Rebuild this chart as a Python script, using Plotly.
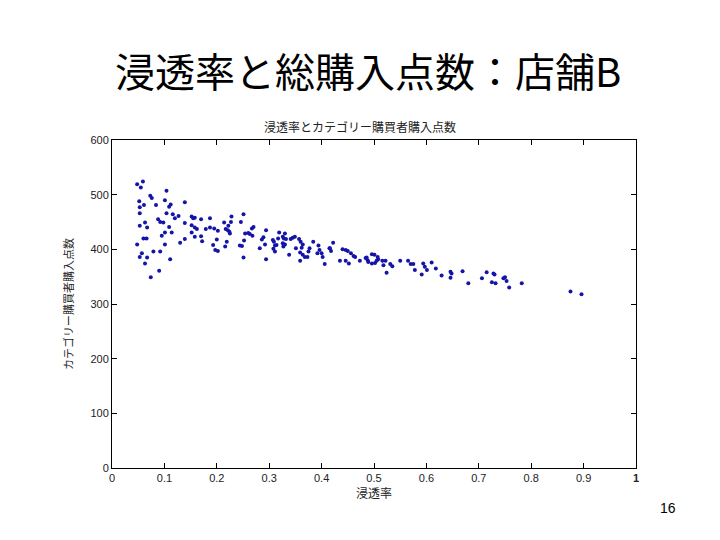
import plotly.graph_objects as go

# 店舗B: 浸透率 vs カテゴリー購買者購入点数
penetration = [
    0.048, 0.059, 0.055, 0.104, 0.073, 0.076, 0.101, 0.052, 0.061, 0.053,
    0.084, 0.112, 0.109, 0.139, 0.053, 0.104, 0.116, 0.127, 0.120, 0.152,
    0.155, 0.158, 0.088, 0.092, 0.098, 0.063, 0.053, 0.067, 0.109, 0.139,
    0.152, 0.158, 0.162, 0.101, 0.095, 0.114, 0.152, 0.158, 0.060, 0.066,
    0.139, 0.130, 0.048, 0.101, 0.079, 0.092, 0.057, 0.053, 0.067, 0.111,
    0.063, 0.090, 0.074,
    0.170, 0.187, 0.179, 0.187, 0.195, 0.202, 0.170, 0.172, 0.200, 0.193,
    0.197, 0.202, 0.214, 0.222, 0.221, 0.224, 0.225, 0.217, 0.228, 0.227,
    0.219, 0.216, 0.246, 0.251, 0.254, 0.260, 0.263, 0.268, 0.267, 0.270,
    0.252, 0.244, 0.248, 0.251, 0.282, 0.286, 0.289,
    0.294, 0.292, 0.307, 0.309, 0.311, 0.314, 0.308, 0.311, 0.319, 0.317,
    0.326, 0.328, 0.332, 0.326, 0.330, 0.327, 0.330, 0.341, 0.345, 0.349,
    0.338, 0.294, 0.351, 0.357, 0.360, 0.364, 0.362, 0.359, 0.364, 0.368,
    0.373, 0.359, 0.377, 0.375, 0.384, 0.394, 0.396, 0.400, 0.402, 0.392,
    0.406, 0.415,
    0.422, 0.416, 0.418, 0.440, 0.446, 0.450, 0.456, 0.461, 0.464, 0.435,
    0.446, 0.452, 0.473, 0.484, 0.488, 0.486, 0.496, 0.501, 0.507, 0.508,
    0.489, 0.496, 0.502, 0.505, 0.516, 0.522, 0.518, 0.524, 0.531, 0.535,
    0.550, 0.565, 0.570, 0.575, 0.578, 0.594, 0.597, 0.601, 0.610, 0.618,
    0.591, 0.629, 0.646, 0.648, 0.646,
    0.669, 0.680, 0.706, 0.715, 0.728, 0.730, 0.725, 0.732, 0.747, 0.750,
    0.753, 0.758, 0.782, 0.875, 0.896,
]
purchases = [
    519, 524, 513, 507, 498, 494, 490, 488, 481, 477,
    481, 482, 478, 486, 466, 466, 464, 461, 457, 460,
    457, 458, 455, 450, 449, 449, 443, 440, 441, 448,
    444, 440, 437, 431, 425, 431, 431, 423, 420, 420,
    419, 412, 409, 409, 396, 396, 393, 386, 385, 382,
    374, 361, 349,
    455, 457, 437, 440, 438, 434, 424, 415, 418, 408,
    399, 397, 449, 443, 435, 432, 429, 437, 460, 450,
    414, 405, 450, 464, 429, 430, 428, 425, 438, 441,
    416, 407, 406, 385, 402, 418, 422,
    435, 409, 417, 414, 407, 408, 401, 396, 431, 420,
    423, 420, 419, 411, 409, 405, 429, 419, 421, 423,
    390, 382, 402, 419, 414, 409, 403, 394, 390, 386,
    386, 379, 402, 396, 414, 407, 399, 393, 386, 393,
    373, 402,
    412, 402, 397, 400, 399, 397, 393, 388, 386, 379,
    379, 374, 379, 384, 380, 385, 391, 390, 386, 382,
    377, 374, 375, 379, 379, 379, 371, 357, 373, 369,
    379, 379, 373, 373, 362, 374, 368, 362, 376, 365,
    354, 352, 359, 356, 348,
    360, 338, 347, 358, 356, 354, 340, 338, 347, 349,
    342, 330, 338, 323, 318,
]

x_ticks = [0, 0.1, 0.2, 0.3, 0.4, 0.5, 0.6, 0.7, 0.8, 0.9, 1]
x_tick_text = ["0", "0.1", "0.2", "0.3", "0.4", "0.5", "0.6", "0.7", "0.8", "0.9", "<b>1</b>"]
y_ticks = [0, 100, 200, 300, 400, 500, 600]

jp = "Noto Sans CJK JP"

fig = go.Figure()
fig.add_trace(go.Scatter(
    x=penetration,
    y=purchases,
    mode="markers",
    marker=dict(size=4, color="#1414a8", symbol="circle"),
    showlegend=False,
))

axis_style = dict(
    showline=True, linecolor="black", linewidth=1, mirror="ticks",
    ticks="inside", ticklen=5, tickcolor="black",
    showgrid=False, zeroline=False,
    tickfont=dict(family="Liberation Sans, Arial", size=11, color="#222"),
)

fig.update_xaxes(range=[0, 1], tickvals=x_ticks, ticktext=x_tick_text,
                 title=dict(text="浸透率", font=dict(family=jp, size=12, color="#222"),
                            standoff=4),
                 **axis_style)
fig.update_yaxes(range=[0, 600], tickvals=y_ticks,
                 title=dict(text="カテゴリー購買者購入点数",
                            font=dict(family=jp, size=11, color="#222"), standoff=14),
                 **axis_style)

# the page body adds 8px of margin, so the figure itself starts at (8, 8)
fig.update_layout(
    width=720, height=540,
    margin=dict(l=104, r=92, t=132, b=80),
    plot_bgcolor="white", paper_bgcolor="white",
    title=dict(text="浸透率とカテゴリー購買者購入点数", x=(360 - 8) / 720, xanchor="center",
               y=1 - 120 / 540, yanchor="middle",
               font=dict(family=jp, size=12, color="#222")),
    annotations=[
        dict(text="浸透率と総購入点数：店舗B", xref="paper", yref="paper",
             x=(360 - 104) / 524, y=1 + (132 - 62) / 328, xanchor="center", yanchor="middle",
             showarrow=False, font=dict(family=jp, size=40, color="black")),
        dict(text="16", xref="paper", yref="paper",
             x=(660 - 104) / 524, y=-(500 - 460) / 328, xanchor="center", yanchor="middle",
             showarrow=False, font=dict(family="Liberation Sans, Arial", size=14, color="black")),
    ],
)

fig.write_html("out.html")
